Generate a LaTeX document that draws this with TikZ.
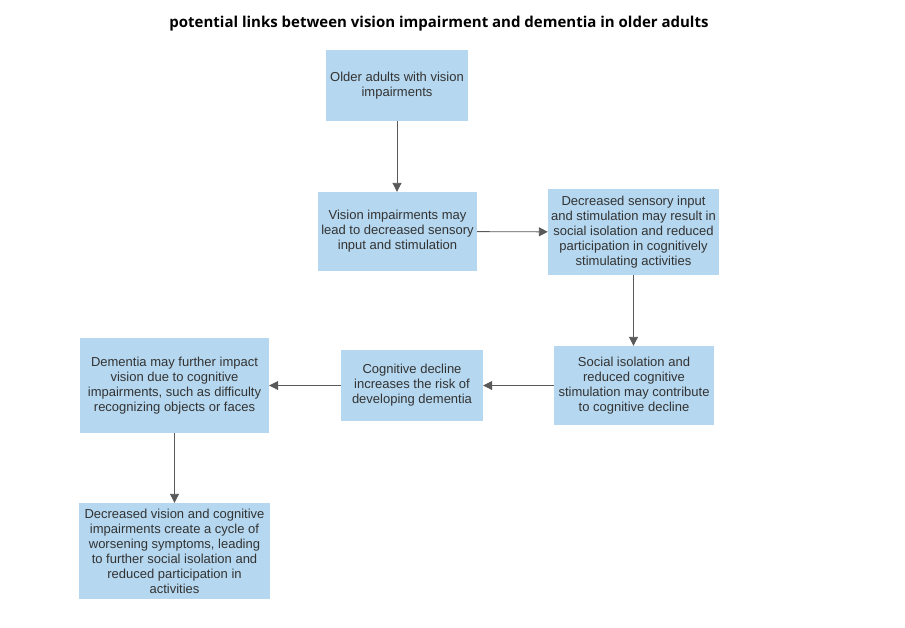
\documentclass[tikz,border=0pt]{standalone}
\usepackage{fontspec}
\setmainfont{Liberation Sans}
\newfontfamily\titlefont{Open Sans}
\usetikzlibrary{positioning,arrows.meta}

\definecolor{boxblue}{HTML}{B5D7EF}
\definecolor{txtgray}{HTML}{333333}
\definecolor{arrgray}{HTML}{595959}

\tikzset{
    stepbox/.style={fill=boxblue, draw=none, align=center, text=txtgray,
        font=\fontsize{13}{15}\selectfont, inner sep=0pt},
    link/.style={draw=arrgray, line width=0.9pt, -{Triangle[length=9pt,width=9pt]}}
}

\begin{document}
\begin{tikzpicture}[x=1pt,y=-1pt]
\useasboundingbox[fill=white] (0,0) rectangle (905,627);

\node[font=\titlefont\bfseries\fontsize{15}{17}\selectfont] (title) at (439,24) {potential links between vision impairment and dementia in older adults};

\node[stepbox, minimum width=142pt, minimum height=71pt] (older) at (397,85.5) {Older adults with vision\\impairments};
\node[stepbox, minimum width=159pt, minimum height=79pt] (lead) at (397.5,231.5) {Vision impairments may\\lead to decreased sensory\\input and stimulation};
\node[stepbox, minimum width=171pt, minimum height=86pt] (isol) at (633.5,232) {Decreased sensory input\\and stimulation may result in\\social isolation and reduced\\participation in cognitively\\stimulating activities};
\node[stepbox, minimum width=160pt, minimum height=79pt] (social) at (634,385.5) {Social isolation and\\reduced cognitive\\stimulation may contribute\\to cognitive decline};
\node[stepbox, minimum width=142pt, minimum height=71pt] (decline) at (412,385.5) {Cognitive decline\\increases the risk of\\developing dementia};
\node[stepbox, minimum width=189pt, minimum height=95pt] (dementia) at (174.5,385.5) {Dementia may further impact\\vision due to cognitive\\impairments, such as difficulty\\recognizing objects or faces};
\node[stepbox, minimum width=191pt, minimum height=96pt] (cycle) at (174.5,551) {Decreased vision and cognitive\\impairments create a cycle of\\worsening symptoms, leading\\to further social isolation and\\reduced participation in\\activities};

% flow
\draw[link] (older) -- (older |- lead.north);
\draw[link] (lead) -- (isol);
\draw[link] (isol) -- (isol |- social.north);
\draw[link] (social) -- (decline);
\draw[link] (decline) -- (dementia);
\draw[link] (dementia) -- (cycle);
\end{tikzpicture}
\end{document}
